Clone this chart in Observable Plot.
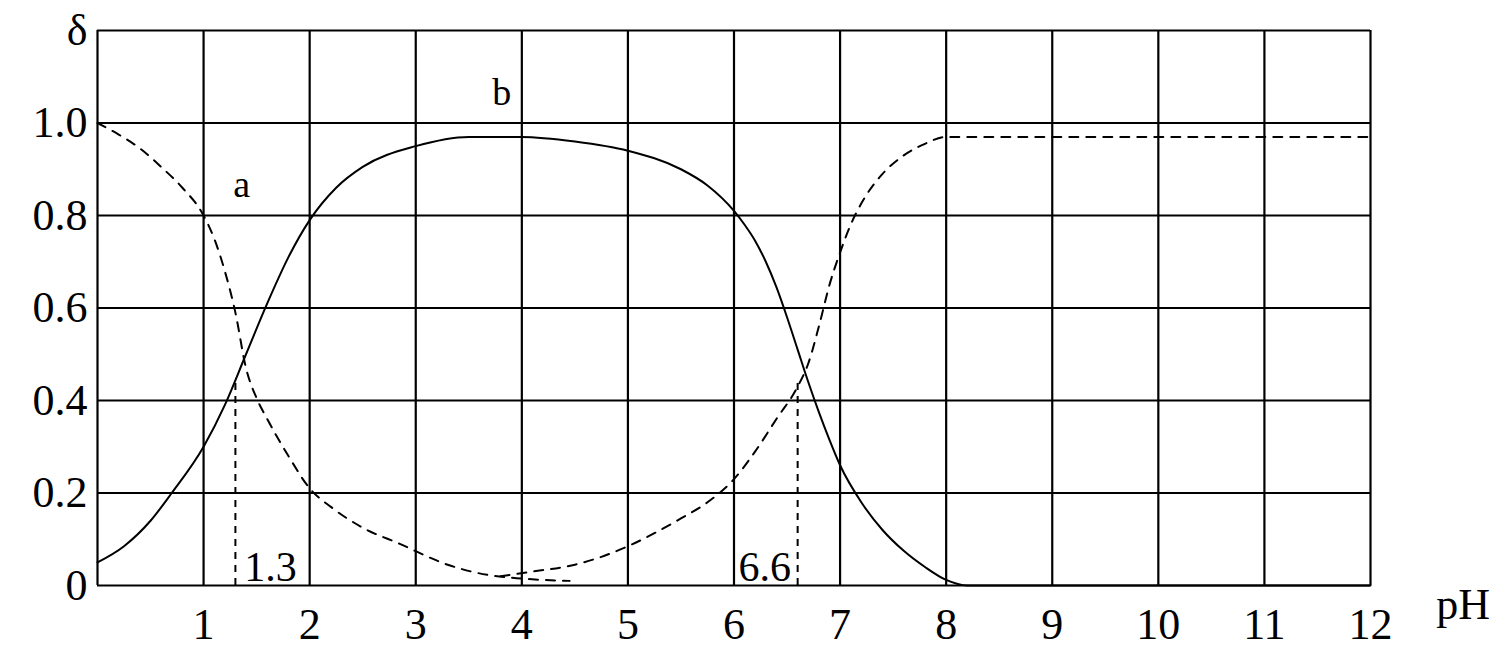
<!DOCTYPE html>
<html><head><meta charset="utf-8">
<script src="https://cdn.jsdelivr.net/npm/d3@7"></script>
<script src="https://cdn.jsdelivr.net/npm/@observablehq/plot@0.6"></script>
<style>
body{margin:0;background:#fff;}
#chart svg{font-family:"Liberation Serif","DejaVu Serif",serif;}
</style>
</head><body><div id="chart"></div>
<script>
// ---- ticks ----
const xTicks = [1,2,3,4,5,6,7,8,9,10,11,12];
const xGrid = [0,1,2,3,4,5,6,7,8,9,10,11,12];
const yGrid = [0,0.2,0.4,0.6,0.8,1.0,1.2];
const yTickLabels = ["0","0.2","0.4","0.6","0.8","1.0","δ"];

// ---- H2A (dashed, falling) ----
const h2aPH  = [0,0.2,0.4,0.6,0.8,1.0,1.1,1.2,1.3,1.4,1.5,1.6,1.8,2.0,2.2,2.5,2.85,3.3,3.7,4.0,4.45];
const h2aVal = [1.0,0.975,0.945,0.905,0.86,0.8,0.75,0.68,0.59,0.47,0.405,0.36,0.28,0.21,0.17,0.125,0.09,0.045,0.022,0.015,0.01];

// ---- HA- (solid) ----
const haPH  = [0,0.25,0.5,0.7,1.0,1.2,1.4,1.6,1.8,2.0,2.25,2.5,3.0,3.5,4.0,4.5,5.0,5.5,5.75,6.0,6.1,6.2,6.3,6.4,6.5,6.6,6.7,6.8,6.9,7.0,7.2,7.4,7.6,7.8,8.0,8.2,9,10,11,12];
const haVal = [0.05,0.085,0.14,0.2,0.3,0.39,0.5,0.61,0.71,0.79,0.86,0.905,0.95,0.97,0.97,0.96,0.94,0.9,0.865,0.81,0.78,0.745,0.7,0.645,0.58,0.51,0.44,0.375,0.315,0.26,0.18,0.12,0.075,0.04,0.012,0,0,0,0,0];

// ---- A2- (dashed, rising) ----
const a2PH  = [3.8,4.1,4.5,4.75,5.0,5.5,5.75,6.0,6.2,6.4,6.6,6.7,6.8,6.9,7.0,7.1,7.25,7.4,7.6,7.8,8.0,9,10,11,12];
const a2Val = [0.02,0.03,0.045,0.062,0.085,0.145,0.18,0.23,0.29,0.36,0.43,0.48,0.56,0.65,0.72,0.78,0.845,0.89,0.93,0.955,0.97,0.97,0.97,0.97,0.97];

// ---- annotations ----
const markerPH = [1.3, 6.6];
const markerTop = [0.45, 0.44];
const markerText = ["1.3", "6.6"];
const markerLabelPH = [1.63, 6.29];
const markerLabelY = [0.01, 0.01];
const pointText = ["a", "b"];
const pointPH = [1.28, 3.72];
const pointY = [0.84, 1.04];
const axisTitle = ["pH"];

const toRows = (xs, ys) => xs.map((x, i) => ({x, y: ys[i]}));
const h2a = toRows(h2aPH, h2aVal);
const ha = toRows(haPH, haVal);
const a2 = toRows(a2PH, a2Val);
const markers = markerPH.map((x, i) => ({x, y1: 0, y2: markerTop[i]}));
const markerLabels = markerText.map((t, i) => ({t, x: markerLabelPH[i], y: markerLabelY[i]}));
const pointLabels = pointText.map((t, i) => ({t, x: pointPH[i], y: pointY[i]}));

const chart = Plot.plot({
  width: 1507,
  height: 668,
  marginLeft: 97,
  marginRight: 137,
  marginTop: 30,
  marginBottom: 83,
  style: {fontSize: "44px", fontFamily: "'Liberation Serif', serif", color: "#000", background: "#fff"},
  x: {domain: [0, 12], axis: null},
  y: {domain: [0, 1.2], axis: null},
  marks: [
    Plot.ruleX(xGrid, {stroke: "#000", strokeWidth: 2.2}),
    Plot.ruleY(yGrid, {stroke: "#000", strokeWidth: 2.2}),
    Plot.axisX(xTicks, {tickSize: 0, tickPadding: 22, fontSize: 44, label: null, tickFormat: d => String(d)}),
    Plot.axisY(yGrid, {tickSize: 0, tickPadding: 10, fontSize: 44, label: null, tickFormat: (d, i) => yTickLabels[i]}),
    Plot.ruleX(markers, {x: "x", y1: "y1", y2: "y2", stroke: "#000", strokeWidth: 2, strokeDasharray: "7,6"}),
    Plot.line(h2a, {x: "x", y: "y", curve: "monotone-x", stroke: "#000", strokeWidth: 2, strokeDasharray: "9,8"}),
    Plot.line(a2, {x: "x", y: "y", curve: "monotone-x", stroke: "#000", strokeWidth: 2, strokeDasharray: "9,8"}),
    Plot.line(ha, {x: "x", y: "y", curve: "monotone-x", stroke: "#000", strokeWidth: 2}),
    Plot.text(markerLabels, {x: "x", y: "y", text: "t", fontSize: 42, lineAnchor: "bottom", fill: "#000"}),
    Plot.text(pointLabels, {x: "x", y: "y", text: "t", fontSize: 38, lineAnchor: "bottom", textAnchor: "start", fill: "#000"}),
    Plot.text(axisTitle, {x: 12.62, y: -0.005, text: d => d, fontSize: 44, textAnchor: "start", lineAnchor: "top", fill: "#000"})
  ]
});
document.getElementById("chart").appendChild(chart);
</script>
</body></html>
